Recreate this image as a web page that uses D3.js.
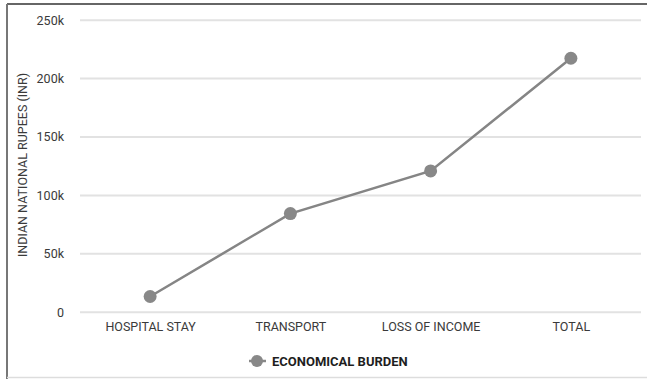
<!DOCTYPE html>
<html><head><meta charset="utf-8">
<script src="https://cdn.jsdelivr.net/npm/d3@7"></script>
<style>html,body{margin:0;padding:0;background:#fff;}svg{display:block;font-family:Roboto,"Noto Sans",sans-serif;}</style>
</head><body>
<svg id="c" width="647" height="379"></svg>
<script>
const categories = ["HOSPITAL STAY", "TRANSPORT", "LOSS OF INCOME", "TOTAL"];
const seriesName = "ECONOMICAL BURDEN";
const values = [13000, 84000, 120500, 217000];
const yTicks = [0, 50000, 100000, 150000, 200000, 250000];
const yTickLabels = ["0", "50k", "100k", "150k", "200k", "250k"];
const yTitle = "INDIAN NATIONAL RUPEES (INR)";

(function(){
const svg = d3.select("#c");
const W = 647, H = 379;
const mL = 80, mR = 641, mT = 19.7, mB = 311.7;

// frame
svg.append("line").attr("x1",7).attr("x2",W).attr("y1",4).attr("y2",4).attr("stroke","#333").attr("stroke-width",1.5);
svg.append("line").attr("x1",7).attr("x2",7).attr("y1",4).attr("y2",H).attr("stroke","#777").attr("stroke-width",2);
svg.append("line").attr("x1",7).attr("x2",W).attr("y1",377.5).attr("y2",377.5).attr("stroke","#ddd").attr("stroke-width",1.5);

const x = d3.scalePoint().domain(categories).range([mL, mR]).padding(0.5);
const y = d3.scaleLinear().domain([0, 250000]).range([mB, mT]);

// grid + y labels
const yAxis = d3.axisLeft(y).tickValues(yTicks).tickSize(0).tickPadding(0)
  .tickFormat((d,i)=>yTickLabels[i]);
const gy = svg.append("g").attr("transform",`translate(${mL},0)`).call(yAxis);
gy.select(".domain").remove();
gy.selectAll("text").attr("x",-16).attr("dy","0.35em").attr("fill","#3a3a3a").style("font-size","12.5px").style("font-family","Roboto");
gy.selectAll(".tick").append("line").attr("x1",0).attr("x2",mR-mL).attr("stroke","#e2e2e2").attr("stroke-width",2);

// x labels
const xAxis = d3.axisBottom(x).tickSize(0).tickPadding(0);
const gx = svg.append("g").attr("transform",`translate(0,${mB})`).call(xAxis);
gx.select(".domain").remove();
gx.selectAll("text").attr("y",15).attr("dy","0.35em").attr("fill","#3a3a3a").style("font-size","12.5px").style("font-family","Roboto");

// y title
svg.append("text").attr("transform",`translate(26.5,165) rotate(-90)`)
  .attr("text-anchor","middle").attr("fill","#3a3a3a").style("font-size","12.5px").text(yTitle);

// line
const line = d3.line().x((d,i)=>x(categories[i])).y(d=>y(d));
svg.append("path").datum(values).attr("d",line).attr("fill","none").attr("stroke","#858585").attr("stroke-width",2.5);
svg.selectAll("circle.pt").data(values).enter().append("circle").attr("class","pt")
  .attr("cx",(d,i)=>x(categories[i])).attr("cy",d=>y(d)).attr("r",6.5).attr("fill","#888");

// legend
const lg = svg.append("g").attr("transform","translate(257,361)");
lg.append("line").attr("x1",-8).attr("x2",9).attr("stroke","#888").attr("stroke-width",2.5);
lg.append("circle").attr("r",6).attr("fill","#888");
lg.append("text").attr("x",15).attr("dy","0.35em").attr("fill","#1e1e1e").style("font-size","13px").style("font-weight","bold").text(seriesName);
})();
</script>
</body></html>
